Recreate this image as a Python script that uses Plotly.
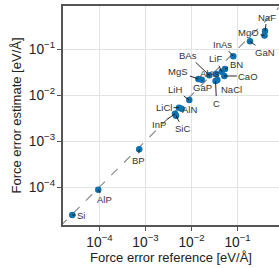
import math
import plotly.graph_objects as go

# ---- data ----
materials = ["Si", "AlP", "BP", "LiH", "LiCl", "AlN", "InP", "SiC", "MgS", "GaP",
             "BAs", "AlAs", "LiF", "BN", "CaO", "NaCl", "C", "InAs", "GaN", "MgO", "NaF"]
force_error_reference = [2.56e-5, 9.4e-5, 7.3e-4, 8.95e-3, 5.35e-3, 6.1e-3, 4.4e-3, 4.6e-3,
                         1.41e-2, 1.67e-2, 2.44e-2, 3.41e-2, 4.54e-2, 5.35e-2, 5.17e-2,
                         3.64e-2, 3.33e-2, 8.1e-2, 0.187, 0.386, 0.396]
force_error_estimate = [2.46e-5, 8.7e-5, 6.6e-4, 7.8e-3, 5.3e-3, 5.0e-3, 3.9e-3, 3.55e-3,
                        2.23e-2, 2.15e-2, 2.68e-2, 2.86e-2, 3.21e-2, 3.67e-2, 2.59e-2,
                        2.12e-2, 2.01e-2, 7.0e-2, 0.147, 0.196, 0.246]

# label placement (pixel offsets of label centre from point)
label_offsets = {
    "Si": (9, 0), "AlP": (6, 10), "BP": (-1, 11), "LiH": (-14, -10), "LiCl": (-15, 0),
    "AlN": (8, 1), "InP": (-16, 11), "SiC": (7, 13), "MgS": (-20, -7), "GaP": (1, 8),
    "BAs": (-21, -20), "AlAs": (-6, -1), "LiF": (-6, -13), "BN": (11, -5), "CaO": (24, 0),
    "NaCl": (14, 9), "C": (1, 22), "InAs": (-11, -12), "GaN": (15, 11), "MgO": (-16, -3),
    "NaF": (2, -14),
}

x_range = [-4.793, -0.098]
y_range = [-4.826, -0.065]

FONT = "Liberation Sans, Arial, Helvetica, sans-serif"
SPINE = "#555555"
TXT = "#222222"

fig = go.Figure()

# y = x reference line
diag = [10 ** -4.85, 10 ** 0.0]
fig.add_trace(go.Scatter(x=diag, y=diag, mode="lines",
                         line=dict(color="#8c8c8c", width=1.2, dash="dash"),
                         hoverinfo="skip", showlegend=False))

fig.add_trace(go.Scatter(x=force_error_reference, y=force_error_estimate, mode="markers",
                         marker=dict(color="#0f72b0", size=6.5, line=dict(width=0)),
                         showlegend=False))

for name, xr, ye in zip(materials, force_error_reference, force_error_estimate):
    ax, ay = label_offsets[name]
    fig.add_annotation(x=math.log10(xr), y=math.log10(ye), xref="x", yref="y",
                       text=name, showarrow=True, ax=ax, ay=ay,
                       arrowhead=0, arrowwidth=0.9, arrowcolor="#111111",
                       standoff=0, startstandoff=0,
                       font=dict(family=FONT, size=9.5, color="#333333"))

axis_common = dict(type="log", dtick=1, exponentformat="power",
                   showgrid=True, gridcolor="#e3e3e3", gridwidth=1,
                   showline=True, linecolor=SPINE, linewidth=1.5,
                   ticks="outside", ticklen=4, tickwidth=1, tickcolor=SPINE,
                   tickfont=dict(family=FONT, size=11, color=TXT),
                   zeroline=False)

fig.update_xaxes(range=x_range, mirror=True,
                 title=dict(text="Force error reference [eV/Å]",
                            font=dict(family=FONT, size=13, color=TXT), standoff=4),
                 **axis_common)
fig.update_yaxes(range=y_range, mirror=False,
                 title=dict(text="Force error estimate [eV/Å]",
                            font=dict(family=FONT, size=13, color=TXT), standoff=4),
                 **axis_common)

fig.update_layout(width=279, height=268,
                  margin=dict(l=63, r=0, t=6, b=43),
                  plot_bgcolor="white", paper_bgcolor="white",
                  showlegend=False)

fig.write_html("out.html", config={"displayModeBar": False},
               post_script="document.body.style.margin='0px';document.body.style.overflow='hidden';")
